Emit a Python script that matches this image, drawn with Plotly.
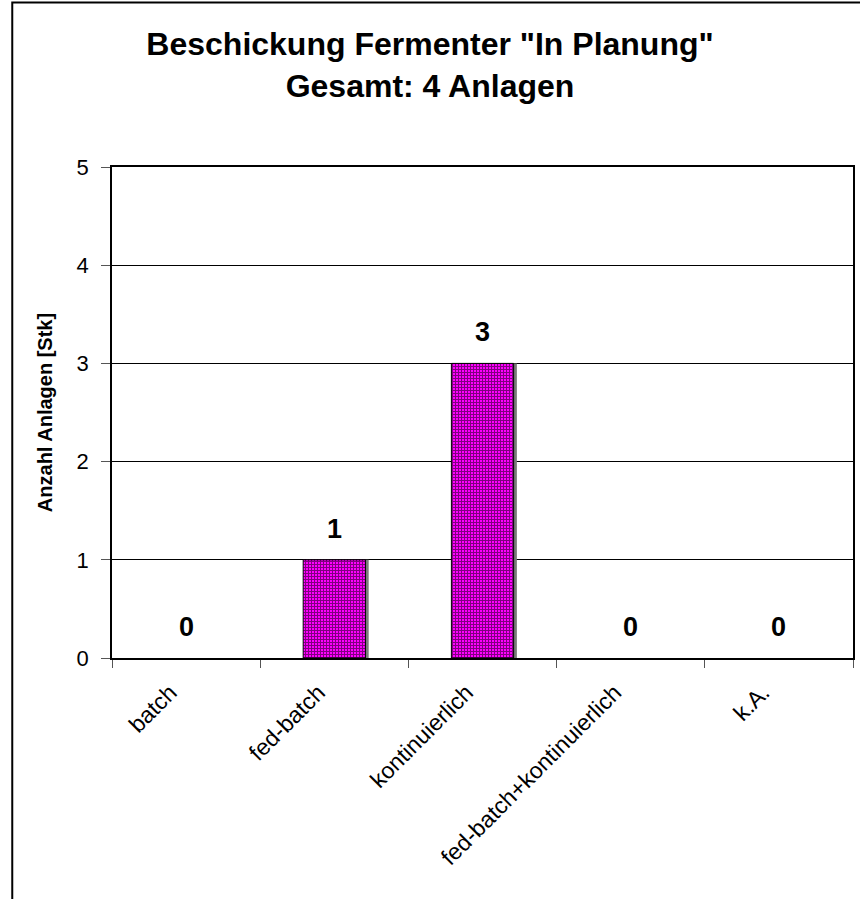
import plotly.graph_objects as go

# Fermenter feeding modes for plants in planning
categories = ["batch", "fed-batch", "kontinuierlich", "fed-batch+kontinuierlich", "k.A."]
anlagen = [0, 1, 3, 0, 0]
y_ticks = [0, 1, 2, 3, 4, 5]

FONT = "Liberation Sans, Arial, sans-serif"
BAR_W = 0.42

fig = go.Figure()

# soft drop shadow on the right edge of each bar
fig.add_trace(go.Bar(
    x=categories, y=anlagen, width=BAR_W, offset=-BAR_W / 2 + 0.022,
    marker=dict(color="#7a7a7a", line=dict(width=0)),
    hoverinfo="skip",
))

fig.add_trace(go.Bar(
    x=categories,
    y=anlagen,
    width=BAR_W,
    offset=-BAR_W / 2,
    marker=dict(
        color="#ff00ff",
        line=dict(color="#000000", width=[1 if v > 0 else 0 for v in anlagen]),
        pattern=dict(shape="+", fgcolor="#000000", bgcolor="#ff00ff",
                     size=3, solidity=0.55, fillmode="overlay"),
    ),
    hoverinfo="x+y",
))

# value labels above each bar
for cat, val in zip(categories, anlagen):
    fig.add_annotation(
        x=cat, y=val, text=str(val), showarrow=False,
        yanchor="bottom", yshift=14,
        font=dict(family=FONT, size=27, color="#000000", weight="bold"),
    )

# outer chart border
fig.add_shape(type="rect", xref="paper", yref="paper",
              x0=-0.1346, x1=1.03, y0=-0.55, y1=1.335,
              line=dict(color="#000000", width=2), layer="below")

fig.update_layout(
    width=860, height=899,
    margin=dict(l=112, r=5, t=167, b=241),
    paper_bgcolor="#ffffff",
    plot_bgcolor="#ffffff",
    showlegend=False,
    barmode="overlay",
    title=dict(
        text="Beschickung Fermenter \"In Planung\"<br>Gesamt: 4 Anlagen",
        x=0.5, xref="container", xanchor="center",
        y=1 - 55 / 899, yref="container", yanchor="middle",
        font=dict(family=FONT, size=32, color="#000000", weight="bold"),
    ),
    xaxis=dict(
        type="category",
        tickangle=-45,
        tickfont=dict(family=FONT, size=23, color="#000000"),
        showline=True, linecolor="#000000", linewidth=2, mirror=True,
        ticks="outside", ticklen=8, tickcolor="#555555",
        tickson="boundaries",
        ticklabelstandoff=10,
        ticklabelshift=-16,
        showgrid=False,
    ),
    yaxis=dict(
        range=[0, 5],
        tickvals=y_ticks,
        tickfont=dict(family=FONT, size=22, color="#000000"),
        showline=True, linecolor="#000000", linewidth=1.5, mirror=True,
        ticks="outside", ticklen=9, tickcolor="#555555",
        ticklabelstandoff=8,
        showgrid=True, gridcolor="#000000", gridwidth=1,
        zeroline=False,
        title=dict(text="Anzahl Anlagen [Stk]", standoff=19,
                   font=dict(family=FONT, size=20, color="#000000", weight="bold")),
    ),
)

fig.write_html("out.html")
